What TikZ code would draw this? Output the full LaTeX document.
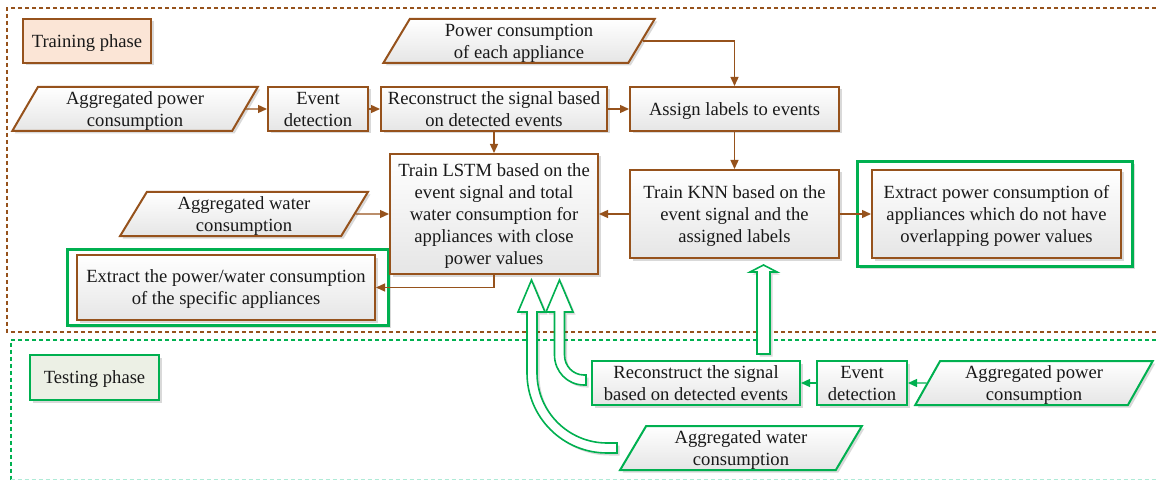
\documentclass[tikz,border=0pt]{standalone}
\usepackage{fontspec}
\setmainfont{Liberation Serif}
\usetikzlibrary{shapes.geometric,shadows,arrows.meta,calc}
\definecolor{brn}{RGB}{150,82,28}
\definecolor{grn}{RGB}{0,176,80}
\definecolor{peach}{RGB}{251,229,214}
\definecolor{tfill}{RGB}{236,240,229}
\definecolor{mint}{RGB}{175,235,215}
\tikzset{
 every node/.style={font=\fontsize{18.6}{22}\selectfont, align=center, inner sep=0pt, text=black!90, text depth=0pt},
 shd/.style={drop shadow={shadow xshift=2.5pt, shadow yshift=-2.5pt, opacity=0.15, fill=black}},
 grad/.style={top color=white, bottom color=black!10},
 bbox/.style={rectangle, draw=brn, line width=2pt, grad, shd},
 gbox/.style={rectangle, draw=grn, line width=2pt, grad, shd},
 para/.style={trapezium, trapezium left angle=62.4, trapezium right angle=117.6, trapezium stretches=true, line width=2pt, grad, shd},
 bpara/.style={para, draw=brn},
 gpara/.style={para, draw=grn},
 gframe/.style={rectangle, draw=grn, line width=3pt, fill=white, shd},
 barr/.style={draw=brn, line width=1.3pt, -{Triangle[length=9pt,width=8pt]}},
 garr/.style={draw=grn, line width=1.3pt, -{Triangle[length=9pt,width=8pt]}},
 blk/.style={draw=grn, line width=1.6pt, fill=white, shd, line join=miter},
 phasebox/.style={rectangle, line width=2pt, shd},
}
\begin{document}
\begin{tikzpicture}[x=1pt,y=-1pt]
\useasboundingbox (0,0) rectangle (1156,481);
% phase frames
\draw[brn, line width=2.2pt, dash pattern=on 4pt off 3pt] (1170,8) -- (7,8) -- (7,332) -- (1170,332);
\draw[grn, line width=2pt, dash pattern=on 4pt off 3pt] (1170,340) -- (10.5,340) -- (10.5,479.5);
\draw[mint, line width=1.5pt, dash pattern=on 4pt off 3pt] (10.5,479.5) -- (1170,479.5);
% phase labels
\node[phasebox, draw=brn, fill=peach, minimum width=128pt, minimum height=44pt] (trn) at (87,41) {Training phase};
\node[phasebox, draw=grn, fill=tfill, minimum width=129pt, minimum height=45pt] (tst) at (94.5,377.5) {Testing phase};
% green highlight frames
\node[gframe, minimum width=275pt, minimum height=104pt] (gf1) at (994.5,214) {};
\node[gframe, minimum width=321pt, minimum height=76pt] (gf2) at (227.5,287) {};
% training nodes
\node[bpara, minimum width=246pt, minimum height=44pt] (ap) at (135,109) {Aggregated power\\consumption};
\node[bbox, minimum width=100pt, minimum height=44pt] (ed) at (318,109) {Event\\detection};
\node[bbox, minimum width=226pt, minimum height=44pt] (rc) at (494,109) {Reconstruct the signal based\\on detected events};
\node[bbox, minimum width=209pt, minimum height=44pt] (al) at (734.5,109) {Assign labels to events};
\node[bpara, minimum width=272pt, minimum height=44pt] (pc) at (519,41) {Power consumption\\of each appliance};
\node[bbox, minimum width=208pt, minimum height=120pt] (lstm) at (494,214) {Train LSTM based on the\\event signal and total\\water consumption for\\appliances with close\\power values};
\node[bbox, minimum width=209pt, minimum height=88pt] (knn) at (734.5,214) {Train KNN based on the\\event signal and the\\assigned labels};
\node[bbox, minimum width=249pt, minimum height=88pt] (ex) at (996.5,214) {Extract power consumption of\\appliances which do not have\\overlapping power values};
\node[bpara, minimum width=248pt, minimum height=44pt] (aw) at (244,214) {Aggregated water\\consumption};
\node[bbox, minimum width=298pt, minimum height=65pt] (pw) at (226,287.5) {Extract the power/water consumption\\of the specific appliances};
% testing nodes
\node[gbox, minimum width=208pt, minimum height=44pt] (rt) at (696,383) {Reconstruct the signal\\based on detected events};
\node[gbox, minimum width=90pt, minimum height=44pt] (et) at (862,383) {Event\\detection};
\node[gpara, minimum width=238pt, minimum height=44pt] (apt) at (1034,383) {Aggregated power\\consumption};
\node[gpara, minimum width=242pt, minimum height=44pt] (awt) at (741,448) {Aggregated water\\consumption};
% training connectors
\draw[barr] (ap) -- (ed);
\draw[barr] (ed) -- (rc);
\draw[barr] (rc) -- (al);
\draw[barr] (pc) -| (al);
\draw[barr] (rc) -- (lstm);
\draw[barr] (al) -- (knn);
\draw[barr] (knn) -- (lstm);
\draw[barr] (knn) -- (ex);
\draw[barr] (aw) -- (lstm);
\draw[barr] (lstm) |- (pw);
% testing connectors
\draw[garr] (apt) -- (et);
\draw[garr] (et) -- (rt);
% block arrows
\path[blk] (763.5,265) -- (777,272) -- (770,272) -- (770,354) -- (757,354) -- (757,272) -- (750,272) -- cycle;
\path[blk] (531.5,280) -- (545,312) -- (537,312) -- (537,373)
  .. controls (537,411.6) and (568.4,443) .. (607,443) -- (617,443) -- (617,453) -- (607,453)
  .. controls (562.8,453) and (527,417.2) .. (527,373) -- (527,312) -- (518,312) -- cycle;
\path[blk] (559.5,280) -- (573,312) -- (564.5,312) -- (564.5,355)
  .. controls (564.5,366) and (573,375) .. (584,375) -- (586,375) -- (586,385) -- (584,385)
  .. controls (567.4,385) and (554.5,371.6) .. (554.5,355) -- (554.5,312) -- (546,312) -- cycle;
\end{tikzpicture}
\end{document}
